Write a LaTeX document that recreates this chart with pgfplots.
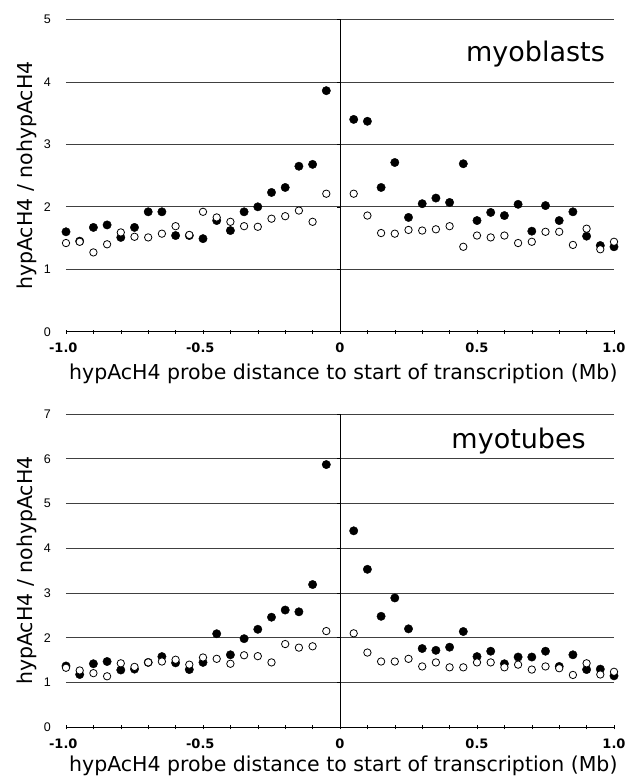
\documentclass[border=0pt]{standalone}
\usepackage{fontspec}
\setmainfont{DejaVu Sans}
\newfontfamily\arialf{Liberation Sans}
\usepackage{pgfplots}
\usepackage{pgfplotstable}
\pgfplotsset{compat=1.18}

\pgfplotsset{
  panel/.style={
    scale only axis, width=548pt,
    xmin=-1, xmax=1, ymin=0,
    clip=false,
    axis x line*=bottom, axis y line*=left,
    y axis line style={draw=none},
    x axis line style={black, line width=0.8pt},
    xtick={-1,-0.5,0,0.5,1},
    xticklabels={\llap{-}1.0,\llap{-}0.5,0,0.5,1.0},
    minor x tick num=4,
    tick align=center,
    major tick length=4pt, minor tick length=4pt,
    x tick style={black, line width=0.6pt},
    y tick style={draw=none},
    ymajorgrids,
    grid style={black!75, line width=0.75pt},
    xticklabel style={font=\bfseries\fontsize{13}{13}\selectfont, anchor=north, inner sep=0pt, yshift=-9pt},
    yticklabel style={font=\arialf\fontsize{12.5}{12.5}\selectfont, anchor=east, inner sep=0pt, xshift=-13pt},
    /pgf/number format/assume math mode=true,
    every axis x label/.style={at={(axis description cs:0.506,0)}, anchor=base, yshift=-47.6pt, font=\fontsize{20.5}{20.5}\selectfont},
    every axis y label/.style={at={(axis description cs:-0.0613,0.5)}, rotate=90, anchor=base, font=\fontsize{20.5}{20.5}\selectfont},
    xlabel={hypAcH4 probe distance to start of transcription (Mb)},
    ylabel={hypAcH4 / nohypAcH4},
  },
  fillpt/.style={only marks, mark=*, mark size=4.2pt, mark options={draw=black, fill=black}},
  openpt/.style={only marks, mark=*, mark size=3.7pt, mark options={draw=black, fill=white, line width=0.8pt}},
}

\pgfplotstableread{
x y
-1.00 1.60
-0.95 1.45
-0.90 1.67
-0.85 1.71
-0.80 1.51
-0.75 1.67
-0.70 1.92
-0.65 1.92
-0.60 1.54
-0.55 1.54
-0.50 1.49
-0.45 1.78
-0.40 1.62
-0.35 1.92
-0.30 2.00
-0.25 2.23
-0.20 2.31
-0.15 2.65
-0.10 2.68
-0.05 3.86
0.05 3.40
0.10 3.37
0.15 2.31
0.20 2.71
0.25 1.83
0.30 2.05
0.35 2.14
0.40 2.07
0.45 2.69
0.50 1.78
0.55 1.91
0.60 1.86
0.65 2.04
0.70 1.61
0.75 2.02
0.80 1.78
0.85 1.92
0.90 1.53
0.95 1.38
1.00 1.36
}\blastfill

\pgfplotstableread{
x y
-1.00 1.42
-0.95 1.44
-0.90 1.27
-0.85 1.40
-0.80 1.59
-0.75 1.52
-0.70 1.51
-0.65 1.57
-0.60 1.69
-0.55 1.55
-0.50 1.92
-0.45 1.83
-0.40 1.76
-0.35 1.69
-0.30 1.68
-0.25 1.81
-0.20 1.85
-0.15 1.94
-0.10 1.76
-0.05 2.21
0.05 2.21
0.10 1.86
0.15 1.58
0.20 1.57
0.25 1.63
0.30 1.62
0.35 1.64
0.40 1.69
0.45 1.36
0.50 1.54
0.55 1.51
0.60 1.54
0.65 1.42
0.70 1.44
0.75 1.60
0.80 1.60
0.85 1.39
0.90 1.65
0.95 1.32
1.00 1.44
}\blastopen

\pgfplotstableread{
x y
-1.00 1.37
-0.95 1.18
-0.90 1.42
-0.85 1.47
-0.80 1.28
-0.75 1.30
-0.70 1.45
-0.65 1.58
-0.60 1.44
-0.55 1.29
-0.50 1.45
-0.45 2.09
-0.40 1.62
-0.35 1.98
-0.30 2.19
-0.25 2.46
-0.20 2.62
-0.15 2.58
-0.10 3.19
-0.05 5.87
0.05 4.39
0.10 3.53
0.15 2.48
0.20 2.89
0.25 2.20
0.30 1.76
0.35 1.72
0.40 1.79
0.45 2.14
0.50 1.58
0.55 1.70
0.60 1.42
0.65 1.57
0.70 1.57
0.75 1.70
0.80 1.36
0.85 1.62
0.90 1.29
0.95 1.30
1.00 1.15
}\tubefill

\pgfplotstableread{
x y
-1.00 1.33
-0.95 1.27
-0.90 1.21
-0.85 1.14
-0.80 1.43
-0.75 1.35
-0.70 1.45
-0.65 1.47
-0.60 1.51
-0.55 1.40
-0.50 1.56
-0.45 1.53
-0.40 1.42
-0.35 1.61
-0.30 1.59
-0.25 1.45
-0.20 1.86
-0.15 1.78
-0.10 1.81
-0.05 2.15
0.05 2.10
0.10 1.67
0.15 1.47
0.20 1.47
0.25 1.53
0.30 1.36
0.35 1.45
0.40 1.34
0.45 1.34
0.50 1.45
0.55 1.45
0.60 1.34
0.65 1.40
0.70 1.29
0.75 1.36
0.80 1.32
0.85 1.17
0.90 1.43
0.95 1.18
1.00 1.24
}\tubeopen

\begin{document}
\begin{tikzpicture}
  % top panel: myoblasts
  \begin{axis}[panel, height=312.2pt, ymax=5, ytick={0,1,2,3,4,5}]
    \draw[black, line width=0.8pt] (axis cs:0,0) -- (axis cs:0,5);
    \pgfplotsinvokeforeach{1,2,3,4,5}{\draw[black, line width=0.6pt] ([xshift=-3pt]axis cs:0,#1) -- (axis cs:0,#1);}
    \addplot[fillpt] table {\blastfill};
    \addplot[openpt] table {\blastopen};
    \node[anchor=base east, font=\fontsize{27}{27}\selectfont, inner sep=0pt] at ([xshift=-9pt, yshift=-42.2pt]rel axis cs:1,1) {myoblasts};
  \end{axis}

  % bottom panel: myotubes (label lifted a little so its descenders stay on the page)
  \begin{axis}[panel, at={(0pt,-395.6pt)}, height=313.3pt, ymax=7, ytick={0,1,2,3,4,5,6,7},
      every axis x label/.append style={yshift=3.5pt}]
    \draw[black, line width=0.8pt] (axis cs:0,0) -- (axis cs:0,7);
    \pgfplotsinvokeforeach{1,2,3,4,5,6,7}{\draw[black, line width=0.6pt] ([xshift=-3pt]axis cs:0,#1) -- (axis cs:0,#1);}
    \addplot[fillpt] table {\tubefill};
    \addplot[openpt] table {\tubeopen};
    \node[anchor=base east, font=\fontsize{27}{27}\selectfont, inner sep=0pt] at ([xshift=-28pt, yshift=-34.3pt]rel axis cs:1,1) {myotubes};
  \end{axis}

  \pgfresetboundingbox
  \path (-66pt,-446.3pt) rectangle (567pt,331.7pt);
\end{tikzpicture}
\end{document}
